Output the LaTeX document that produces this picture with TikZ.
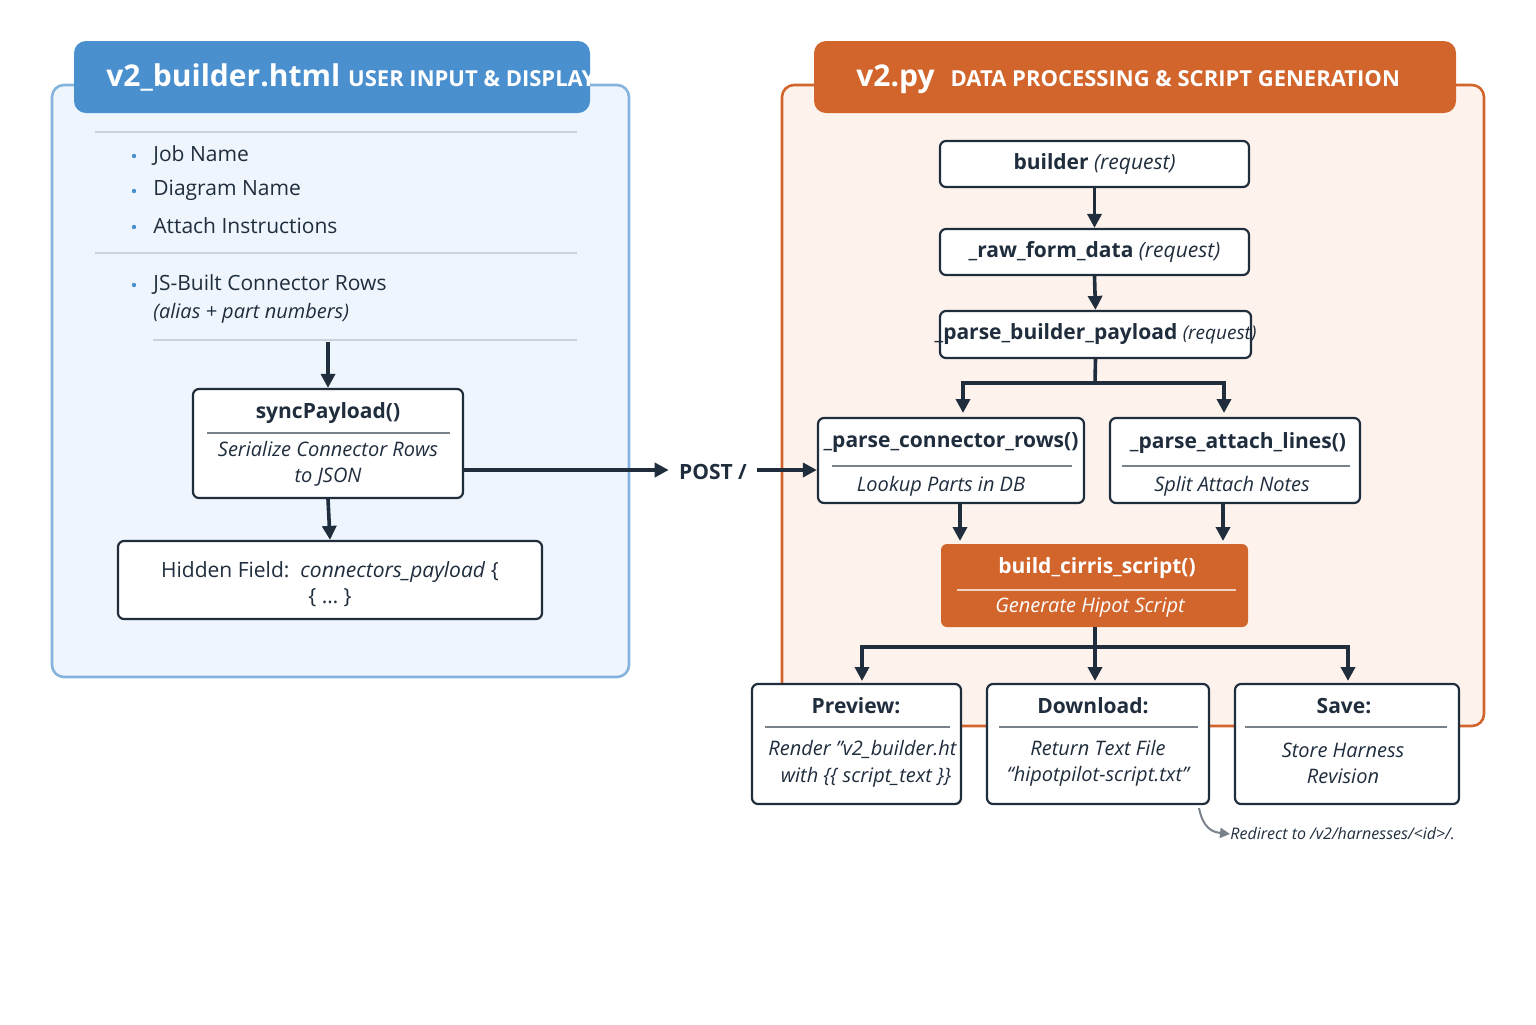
\documentclass[tikz,border=0pt]{standalone}
\usepackage{fontspec}
\setmainfont{Open Sans}
\usetikzlibrary{fit,arrows.meta,calc}
\definecolor{ink}{HTML}{1F2D3D}
\definecolor{bluehd}{HTML}{4A90CF}
\definecolor{bluebg}{HTML}{EEF5FC}
\definecolor{blueln}{HTML}{86B3DE}
\definecolor{orghd}{HTML}{D2652C}
\definecolor{orgbg}{HTML}{FDF3EC}
\definecolor{sepc}{HTML}{C9D3DD}
\tikzset{
  box/.style={draw=ink, line width=1.1pt, rounded corners=3pt, fill=white, inner sep=0pt},
  obox/.style={fill=orghd, rounded corners=3pt, inner sep=0pt},
  arr/.style={draw=ink, line width=1.8pt, -{Triangle[length=7pt,width=7pt]}},
  ln/.style={draw=ink, line width=1.8pt},
  sep/.style={draw=sepc, line width=0.6pt},
  isep/.style={draw=ink!60, line width=0.6pt},
  t/.style={font=\fontsize{10.5}{13}\selectfont, text=ink, inner sep=0pt, align=center},
  tb/.style={t, font=\fontsize{10.5}{13}\selectfont\bfseries},
  ti/.style={t, font=\fontsize{10}{13}\selectfont\itshape},
  bul/.style={t, anchor=west, align=left},
}
\begin{document}
\begin{tikzpicture}[x=0.5pt,y=-0.5pt]
\useasboundingbox (0,0) rectangle (1536,1024);
% left panel
\draw[draw=blueln, line width=1.3pt, fill=bluebg, rounded corners=6pt] (52,85) rectangle (629,677);
\node[fill=bluehd, rounded corners=6pt, inner sep=0pt, fit={(74,41)(590,113)}] (lh) {};
\node[anchor=base west, text=white, inner sep=0pt] (lht) at (106,86) {\fontsize{15}{18}\selectfont\bfseries v2\_builder.html\hspace{4pt}\fontsize{11}{13}\selectfont USER INPUT \& DISPLAY};
\draw[sep] (95,132) -- (577,132);
\draw[sep] (95,253) -- (577,253);
\draw[sep] (153,340) -- (577,340);
\foreach \y/\n/\s in {155/b1/Job Name,190/b2/Diagram Name,226/b3/Attach Instructions,284/b4/JS-Built Connector Rows}{
  \fill[bluehd] (134,\y+1) circle (2.2);
  \node[bul] (\n) at (153,\y) {\s};
}
\node[bul, font=\fontsize{10}{13}\selectfont\itshape] (b5) at (153,313) {(alias + part numbers)};
\coordinate (la) at (328,342);
\node[box, fit={(193,389)(463,498)}] (sync) {};
\node[tb] (synct) at (328,413) {syncPayload()};
\draw[isep] (207,433) -- (450,433);
\node[ti] (syncd) at (328,464) {Serialize Connector Rows\\to JSON};
\node[box, fit={(118,541)(542,619)}] (hid) {};
\node[t] (hidt) at (330,584) {Hidden Field:\ \ \textit{connectors\_payload} \{\\\{ … \}};
\draw[arr] (la) -- (sync.north);
\draw[arr] (sync.south) -- (hid.north);
\node[tb] (post) at (713,472) {POST /};
\draw[arr] (sync.east |- 0,470) -- ($(post.west |- 0,470)+(-10,0)$);
% right panel
\draw[draw=orghd, line width=1.3pt, fill=orgbg, rounded corners=6pt] (782,85) rectangle (1484,726);
\node[fill=orghd, rounded corners=6pt, inner sep=0pt, fit={(814,41)(1456,113)}] (rh) {};
\node[anchor=base west, text=white, inner sep=0pt] (rht) at (856,86) {\fontsize{15}{18}\selectfont\bfseries v2.py\hspace{8pt}\fontsize{11}{13}\selectfont DATA PROCESSING \& SCRIPT GENERATION};
\node[box, fit={(940,141)(1249,187)}] (bld) {};
\node[t] at (bld) {\textbf{builder} \textit{(request)}};
\node[box, fit={(940,229)(1249,275)}] (raw) {};
\node[t] at (raw) {\textbf{\_raw\_form\_data} \textit{(request)}};
\node[box, fit={(940,311)(1251,358)}] (pbp) {};
\node[t] at (pbp) {\textbf{\_parse\_builder\_payload} \textit{\fontsize{9.5}{12}\selectfont(request)}};
\draw[arr] (bld.south) -- (raw.north);
\draw[arr] (raw.south) -- (pbp.north);
\node[box, fit={(818,418)(1084,503)}] (pcr) {};
\node[tb] at (951,443) {\_parse\_connector\_rows()};
\draw[isep] (832,466) -- (1072,466);
\node[ti] at (941,486) {Lookup Parts in DB};
\node[box, fit={(1110,418)(1360,503)}] (pal) {};
\node[tb] at (1238,443) {\_parse\_attach\_lines()};
\draw[isep] (1122,466) -- (1350,466);
\node[ti] at (1232,486) {Split Attach Notes};
\draw[arr] ($(post.east |- 0,470)+(10,0)$) -- (pcr.west |- 0,470);
\coordinate (j1) at (1095,383);
\draw[ln] (pbp.south) -- (j1);
\draw[arr] (j1) -| (963,413);
\draw[arr] (j1) -| (1224,413);
\node[obox, fit={(941,544)(1248,627)}] (bcs) {};
\node[tb, text=white] at (1097,568) {build\_cirris\_script()};
\draw[draw=white!70!orghd, line width=0.6pt] (957,590) -- (1236,590);
\node[ti, text=white] at (1090,608) {Generate Hipot Script};
\draw[arr] (960,503) -- (960,541);
\draw[arr] (1223,503) -- (1223,541);
\coordinate (j2) at (1095,647);
\draw[ln] (bcs.south -| j2) -- (j2);
\node[box, fit={(752,684)(961,804)}] (pre) {};
\node[box, fit={(987,684)(1209,804)}] (dl) {};
\node[box, fit={(1235,684)(1459,804)}] (sv) {};
\draw[arr] (j2) -| (862,681);
\draw[arr] (j2) -- (1095,681);
\draw[arr] (j2) -| (1348,681);
\node[tb] at (856,706) {Preview:};
\draw[isep] (765,727) -- (950,727);
\node[ti, anchor=east] at (957,749) {Render "v2\_builder.ht};
\node[ti] at (866,777) {with \{\{ script\_text \}\}};
\node[tb] at (1093,706) {Download:};
\draw[isep] (999,727) -- (1198,727);
\node[ti] at (1098,763) {Return Text File\\“hipotpilot-script.txt”};
\node[tb] at (1344,706) {Save:};
\draw[isep] (1245,727) -- (1447,727);
\node[ti] at (1343,763) {Store Harness\\Revision};
\coordinate (rs) at (1199,808);
\node[t, anchor=west, font=\fontsize{8}{10}\selectfont\itshape] (rd) at (1230,834) {Redirect to /v2/harnesses/<id>/.};
\draw[draw=ink!60, line width=1pt, -{Triangle[length=5pt,width=5pt]}] (rs) .. controls (1203,828) and (1212,832) .. (rd.west);
\end{tikzpicture}
\end{document}
